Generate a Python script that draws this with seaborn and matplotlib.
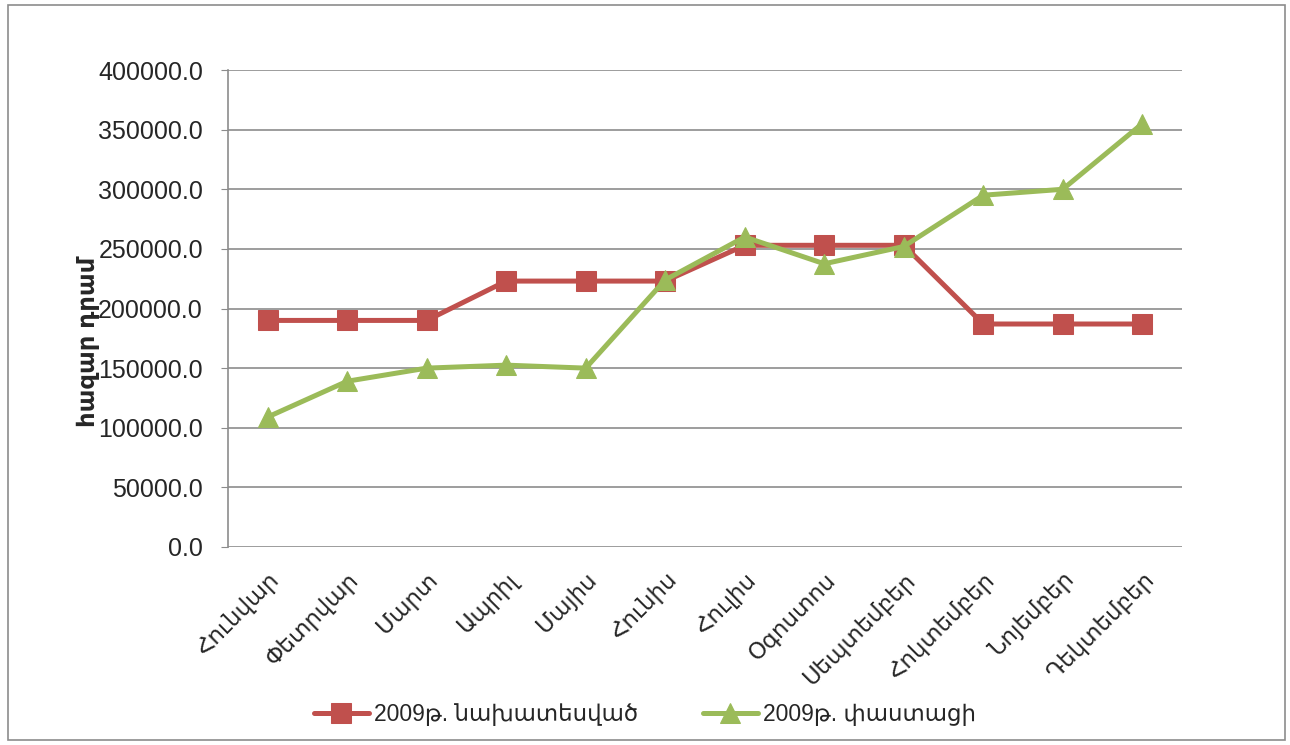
import matplotlib.pyplot as plt
import seaborn as sns
import pandas as pd
from matplotlib.patches import Rectangle

# Ամիսներ
months = ['Հունվար', 'Փետրվար', 'Մարտ', 'Ապրիլ', 'Մայիս', 'Հունիս',
          'Հուլիս', 'Օգոստոս', 'Սեպտեմբեր', 'Հոկտեմբեր', 'Նոյեմբեր', 'Դեկտեմբեր']
planned = [190000, 190000, 190000, 223000, 223000, 223000,
           253000, 253000, 253000, 187000, 187000, 187000]
actual = [109000, 139000, 150000, 152500, 150000, 224000,
          260000, 237500, 252000, 295000, 300000, 355000]
series_names = ['2009թ. նախատեսված', '2009թ. փաստացի']
yticks = [0, 50000, 100000, 150000, 200000, 250000, 300000, 350000, 400000]

df = pd.DataFrame({'month': months, 'planned': planned, 'actual': actual})
df['pos'] = range(len(df))

sns.set_style('white')
plt.rcParams['font.family'] = ['Liberation Sans', 'DejaVu Sans']

fig = plt.figure(figsize=(12.9, 7.45), dpi=100)
ax = fig.add_axes([0.1767, 0.2658, 0.7396, 0.6402])

red = '#C0504D'
green = '#9BBB59'

sns.lineplot(data=df, x='pos', y='planned', ax=ax, color=red, linewidth=3.6,
             marker='s', markersize=14, markeredgecolor=red, label=series_names[0])
sns.lineplot(data=df, x='pos', y='actual', ax=ax, color=green, linewidth=3.6,
             marker='^', markersize=15, markeredgecolor=green, label=series_names[1])

ax.set_xlim(-0.5, len(months) - 0.5)
ax.set_ylim(0, 400000)
ax.set_yticks(yticks)
ax.set_yticklabels([f'{v:.1f}' for v in yticks], fontsize=18)
ax.set_xticks(df['pos'])
ax.set_xticklabels(months, rotation=45, ha='right', rotation_mode='anchor', fontsize=16.5)
ax.set_xlabel('')
ax.set_ylabel('')

ax.grid(axis='y', color='#8C8C8C', linewidth=1.2)
ax.grid(axis='x', visible=False)
for side in ['top', 'right', 'bottom']:
    ax.spines[side].set_visible(False)
ax.spines['left'].set_color('#8C8C8C')
ax.spines['left'].set_linewidth(1.2)
ax.tick_params(axis='y', which='both', left=True, length=5, color='#8C8C8C', pad=13)
ax.tick_params(axis='x', bottom=False, pad=12)

fig.text(88 / 1290, 1 - 342 / 745, 'հազար դրամ', rotation=90, ha='center', va='center',
         fontsize=17.5, fontweight='bold')

leg = ax.legend(loc='center', ncol=2, frameon=False, fontsize=16.5,
                handlelength=2.4, columnspacing=2.8, handletextpad=0.25)
leg.set_bbox_to_anchor((0.5, 1 - 715 / 745), transform=fig.transFigure)

fig.patches.append(Rectangle((8 / 1290, 5 / 745), 1277 / 1290, 735 / 745,
                             transform=fig.transFigure, fill=False,
                             edgecolor='#8C8C8C', linewidth=1.2))

fig.savefig('out.png', dpi=100)
